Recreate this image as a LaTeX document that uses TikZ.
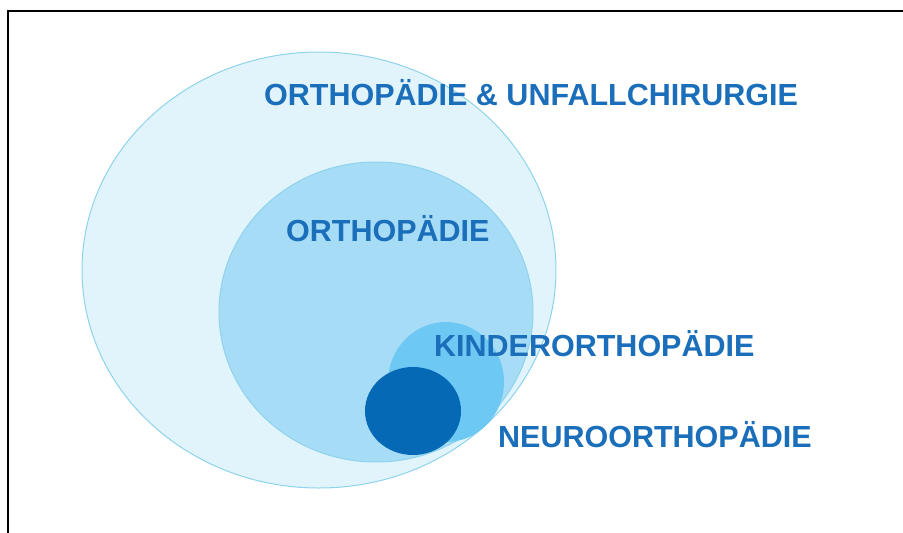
\documentclass[tikz,border=0pt]{standalone}
\usepackage{fontspec}
\setmainfont{Liberation Sans}
\usetikzlibrary{shapes.geometric}
\definecolor{fachblau}{HTML}{1A6EBA}
\definecolor{ringrand}{HTML}{8ED3EC}
\definecolor{ouc}{HTML}{E1F4FC}
\definecolor{orth}{HTML}{A7DCF7}
\definecolor{kind}{HTML}{6DC8F4}
\definecolor{neur}{HTML}{0669B6}
\tikzset{
  kreis/.style={ellipse, draw=ringrand, line width=1pt, inner sep=0pt},
  lbl/.style={anchor=base west, inner sep=0pt, text=fachblau,
              font=\fontsize{30.5}{32}\selectfont\bfseries},
  rahmen/.style={line width=1.4pt, black},
}

\begin{document}
\begin{tikzpicture}[x=1pt, y=-1pt]
        \useasboundingbox (0,0) rectangle (903,533);
        \coordinate (r1) at (8,533); \coordinate (r2) at (8,11); \coordinate (r3) at (903,11);
        \draw[rahmen] (r1) -- (r2) -- (r3);
        \node[kreis, fill=ouc, minimum width=474pt, minimum height=436pt] (ouc) at (319,270) {};
        \node[kreis, fill=orth, minimum width=314pt, minimum height=300pt] (orth) at (376,312) {};
        \node[ellipse, fill=kind, inner sep=0pt, minimum width=116pt, minimum height=120pt] (kind) at (446,382) {};
        \node[ellipse, fill=neur, inner sep=0pt, minimum width=96pt, minimum height=88pt] (neur) at (413,411) {};
        \node[lbl] (t-ouc) at (264,105) {ORTHOPÄDIE \& UNFALLCHIRURGIE};
        \node[lbl] (t-orth) at (286,241) {ORTHOPÄDIE};
        \node[lbl] (t-kind) at (434,356) {KINDERORTHOPÄDIE};
        \node[lbl] (t-neur) at (498,447) {NEUROORTHOPÄDIE};
      \end{tikzpicture}
\end{document}
